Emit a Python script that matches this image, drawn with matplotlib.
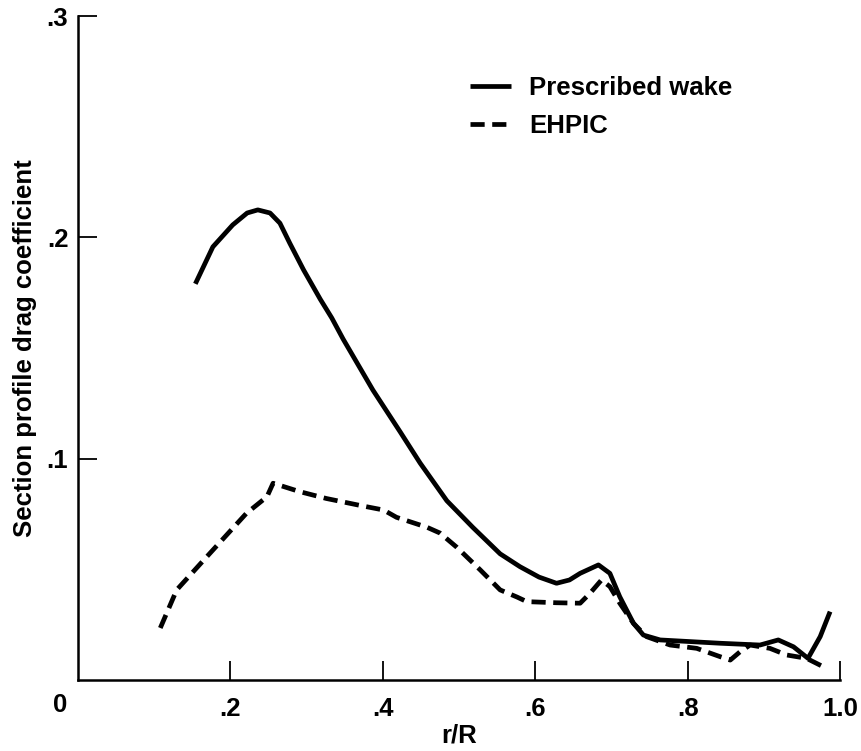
import matplotlib
matplotlib.use("Agg")
import matplotlib.pyplot as plt

plt.rcParams['font.family'] = ['Liberation Sans', 'DejaVu Sans']
plt.rcParams['font.weight'] = 'bold'

# Prescribed wake (solid)
wake_r = [0.154, 0.177, 0.203, 0.222, 0.236, 0.252, 0.265, 0.278, 0.296, 0.318,
          0.333, 0.348, 0.387, 0.423, 0.449, 0.484, 0.518, 0.554, 0.580, 0.605,
          0.628, 0.645, 0.659, 0.683, 0.698, 0.711, 0.729, 0.742, 0.764, 0.843,
          0.895, 0.919, 0.939, 0.958, 0.974, 0.987]
wake_cd = [0.179, 0.1957, 0.2056, 0.211, 0.2124, 0.211, 0.2064, 0.1973, 0.1853, 0.172,
           0.1636, 0.154, 0.131, 0.112, 0.098, 0.081, 0.069, 0.057, 0.0512, 0.0465,
           0.0437, 0.0452, 0.0482, 0.052, 0.0482, 0.0376, 0.0256, 0.0203, 0.0181, 0.0166,
           0.0158, 0.0181, 0.015, 0.0098, 0.0196, 0.0309]

# EHPIC (dashed)
ehpic_r = [0.108, 0.1295, 0.173, 0.221, 0.248, 0.256, 0.291, 0.326, 0.374, 0.401,
           0.418, 0.458, 0.475, 0.497, 0.528, 0.554, 0.576, 0.589, 0.628, 0.659,
           0.672, 0.687, 0.698, 0.711, 0.729, 0.746, 0.777, 0.812, 0.843, 0.856,
           0.869, 0.882, 0.908, 0.930, 0.956, 0.978]
ehpic_cd = [0.0235, 0.0407, 0.0572, 0.0753, 0.0828, 0.0889, 0.0851, 0.082, 0.0786, 0.0768,
            0.0735, 0.069, 0.0664, 0.060, 0.0497, 0.0407, 0.0375, 0.0354, 0.0349, 0.0347,
            0.0392, 0.0452, 0.0422, 0.0347, 0.0256, 0.0196, 0.0158, 0.0143, 0.0105, 0.009,
            0.0128, 0.0158, 0.0143, 0.0113, 0.0098, 0.006]

xticks = [0.2, 0.4, 0.6, 0.8, 1.0]
xlabels = ['.2', '.4', '.6', '.8', '1.0']
yticks = [0.1, 0.2, 0.3]
ylabels = ['.1', '.2', '.3']

fs = 18.5
W, H = 861, 751
fig = plt.figure(figsize=(W / 100, H / 100), dpi=100)
ax = fig.add_axes([78 / W, 71 / H, 762 / W, 664 / H])

ax.plot(wake_r, wake_cd, color='black', lw=3.4, solid_capstyle='butt',
        solid_joinstyle='round', label='Prescribed wake')
ax.plot(ehpic_r, ehpic_cd, color='black', lw=3.4, dashes=(3.0, 1.6),
        dash_capstyle='butt', dash_joinstyle='round', label='EHPIC')

ax.set_xlim(0, 1.0)
ax.set_ylim(0, 0.3)
ax.spines['top'].set_visible(False)
ax.spines['right'].set_visible(False)
for s in ('left', 'bottom'):
    ax.spines[s].set_linewidth(1.8)

ax.set_xticks(xticks)
ax.set_xticklabels(xlabels)
ax.set_yticks(yticks)
ax.set_yticklabels(ylabels)
ax.tick_params(direction='in', length=14, width=1.3, labelsize=fs)
ax.tick_params(axis='x', pad=12)
ax.tick_params(axis='y', pad=7)

# origin label
ax.annotate('0', xy=(0, 0), xytext=(-18, -25), textcoords='offset pixels',
            ha='center', va='center', fontsize=fs, fontweight='bold')

ax.set_xlabel('r/R', fontsize=fs, fontweight='bold', labelpad=2)
ax.set_ylabel('Section profile drag coefficient', fontsize=fs, fontweight='bold')
ax.yaxis.set_label_coords(-(78 - 25) / 762, 0.5)
ax.yaxis.label.set_va('center')

ax.legend(loc='upper left', bbox_to_anchor=((470 - 78) / 762, 0.91),
          frameon=False, fontsize=fs, handlelength=1.6, handletextpad=0.7,
          labelspacing=0.55, borderpad=0, borderaxespad=0)

fig.savefig('out.png', dpi=100)
